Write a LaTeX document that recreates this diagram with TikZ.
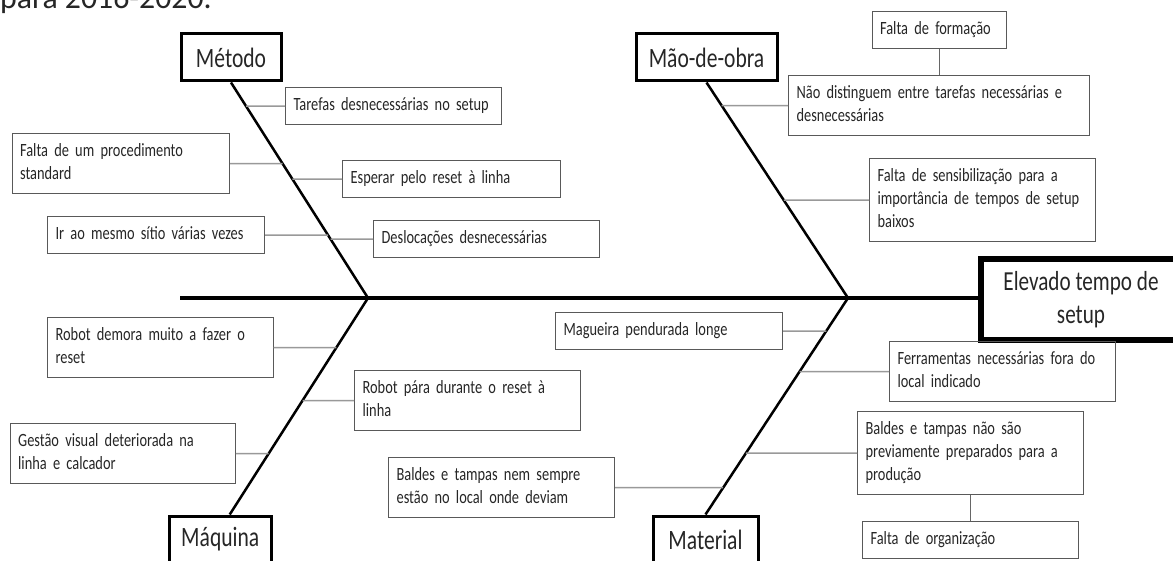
\documentclass[tikz,border=0pt]{standalone}
\usepackage{fontspec}
\setmainfont{Carlito}
\newfontfamily\narrowfont{Carlito}[FakeStretch=0.77]
\usetikzlibrary{positioning,calc}

\begin{document}
\begin{tikzpicture}[
    x=1pt, y=-1pt,
    cause/.style={draw=black!65, line width=1.2pt, anchor=north west, align=left, text width=#1,
        inner xsep=8pt, inner ysep=7pt, text=black!85,
        font=\narrowfont\fontsize{18.7}{23}\selectfont,
        execute at begin node=\strut, execute at end node=\strut},
    cat/.style={draw, line width=3pt, anchor=north west, minimum width=#1, minimum height=47pt,
        inner sep=0pt, text=black!85, font=\narrowfont\fontsize{28}{33}\selectfont},
    head/.style={draw, line width=6pt, anchor=north west, minimum width=200pt, minimum height=81pt,
        align=center, inner sep=0pt, text=black!85, font=\narrowfont\fontsize{27.5}{33}\selectfont},
    spine/.style={line width=3.5pt},
    bone/.style={line width=2.5pt},
    twig/.style={draw=black!40, line width=1.5pt},
    link/.style={draw=black!60, line width=1pt},
]
    \useasboundingbox (0,0) rectangle (1173,561);
    \clip (0,0) rectangle (1173,561);

    % text of the page, cut at the top
    \node[anchor=base west, inner sep=0pt, font=\fontsize{31.8}{38}\selectfont, text=black!85] (pagetext) at (0,9) {para 2016-2020.};

    % spine and effect
    \coordinate (tail) at (180,298);
    \coordinate (v1) at (368,298);
    \coordinate (v2) at (848,298);
    \node[head] (effect) at (978,256) {Elevado tempo de\\setup};
    \draw[spine] (tail) -- (tail -| effect.west);

    % categories
    \node[cat=100pt] (metodo) at (179.5,32.5) {Método};
    \node[cat=141pt] (maodeobra) at (634.5,32.5) {Mão-de-obra};
    \node[cat=101.5pt] (maquina) at (168,514.5) {Máquina};
    \node[cat=105pt] (material) at (651.5,514.5) {Material};
    \coordinate (mq) at ([xshift=9.5pt]maquina.north);

    \draw[bone] (metodo.south) -- (v1);
    \draw[bone] (mq) -- (v1);
    \draw[bone] (maodeobra.south) -- (v2);
    \draw[bone] (material.north) -- (v2);

    % Método
    \node[cause=200pt] (tarefas) at (285,87) {Tarefas desnecessárias no setup};
    \node[cause=201.5pt] (procstd) at (11.5,133) {Falta de um procedimento\\standard};
    \node[cause=202pt] (esperar) at (342,160) {Esperar pelo reset à linha};
    \node[cause=201pt] (irmesmo) at (47,216) {Ir ao mesmo sítio várias vezes};
    \node[cause=210pt] (desloc) at (373,220) {Deslocações desnecessárias};

    % Máquina
    \node[cause=209.5pt] (robotdem) at (47,317) {Robot demora muito a fazer o\\reset};
    \node[cause=210pt] (robotpara) at (354,370) {Robot pára durante o reset à\\linha};
    \node[cause=209pt] (gestao) at (9.6,423) {Gestão visual deteriorada na\\linha e calcador};

    % Mão-de-obra
    \node[cause=285pt] (naodist) at (788,75) {Não distinguem entre tarefas necessárias e\\desnecessárias};
    \node[cause=118pt, above=26pt of naodist] (formacao) {Falta de formação};
    \node[cause=210pt] (sensib) at (869,158) {Falta de sensibilização para a\\importância de tempos de setup\\baixos};

    % Material
    \node[cause=211pt] (magueira) at (555,312) {Magueira pendurada longe};
    \node[cause=210pt] (baldesnem) at (388,457) {Baldes e tampas nem sempre\\estão no local onde deviam};
    \node[cause=210pt] (ferram) at (889,341) {Ferramentas necessárias fora do\\local indicado};
    \node[cause=210pt] (baldesnao) at (857,411) {Baldes e tampas não são\\previamente preparados para a\\produção};
    \node[cause=200pt, below=26pt of baldesnao] (organiz) {Falta de organização};

    % connectors
    \draw[twig] (tarefas.west) -- (intersection of tarefas.west--tarefas.east and metodo.south--v1);
    \draw[twig] (procstd.east) -- (intersection of procstd.west--procstd.east and metodo.south--v1);
    \draw[twig] (esperar.west) -- (intersection of esperar.west--esperar.east and metodo.south--v1);
    \draw[twig] (irmesmo.east) -- (intersection of irmesmo.west--irmesmo.east and metodo.south--v1);
    \draw[twig] (desloc.west) -- (intersection of desloc.west--desloc.east and metodo.south--v1);

    \draw[twig] (robotdem.east) -- (intersection of robotdem.west--robotdem.east and mq--v1);
    \draw[twig] (robotpara.west) -- (intersection of robotpara.west--robotpara.east and mq--v1);
    \draw[twig] (gestao.east) -- (intersection of gestao.west--gestao.east and mq--v1);

    \draw[twig] (naodist.west) -- (intersection of naodist.west--naodist.east and maodeobra.south--v2);
    \draw[twig] (sensib.west) -- (intersection of sensib.west--sensib.east and maodeobra.south--v2);
    \draw[link] (formacao) -- (naodist);

    \draw[twig] (magueira.east) -- (intersection of magueira.west--magueira.east and material.north--v2);
    \draw[twig] (baldesnem.east) -- (intersection of baldesnem.west--baldesnem.east and material.north--v2);
    \draw[twig] (ferram.west) -- (intersection of ferram.west--ferram.east and material.north--v2);
    \draw[twig] (baldesnao.west) -- (intersection of baldesnao.west--baldesnao.east and material.north--v2);
    \draw[link] (baldesnao) -- (organiz);
\end{tikzpicture}
\end{document}
